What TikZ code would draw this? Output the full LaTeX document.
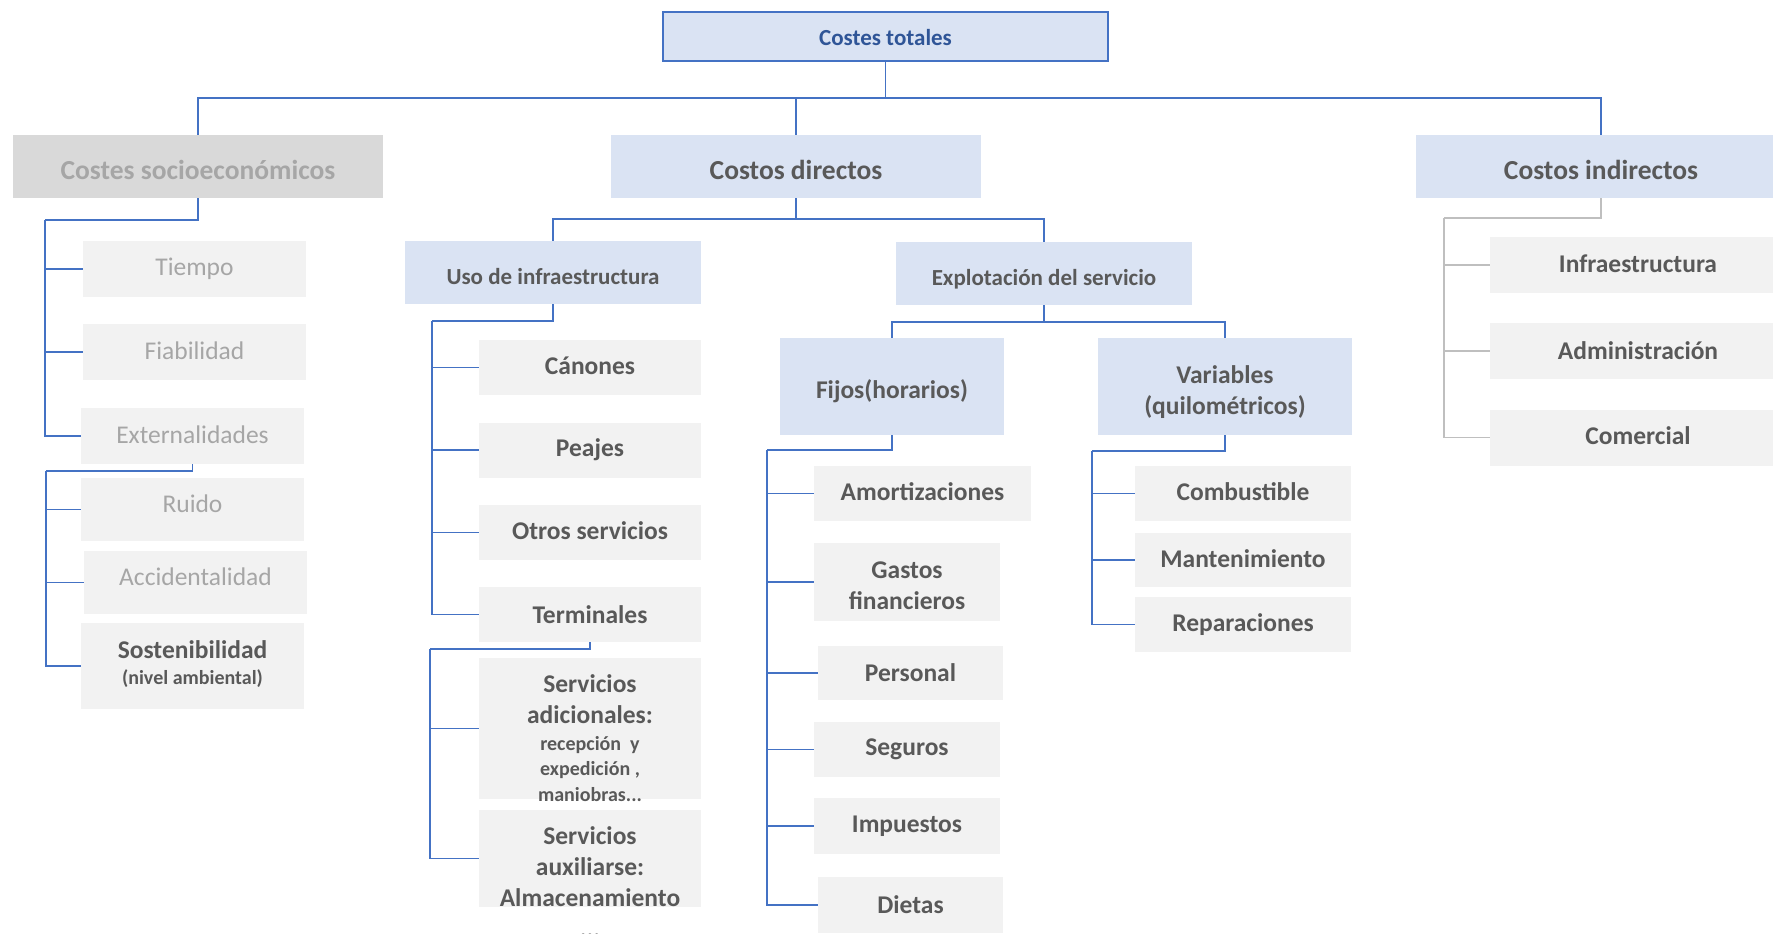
\documentclass[tikz,border=0pt]{standalone}
\usepackage{fontspec}
\setmainfont{Carlito}
\usepackage{xcolor}
\usepackage{tikz}

\definecolor{lineblue}{HTML}{4472C4}
\definecolor{linegray}{HTML}{BFBFBF}
\definecolor{headblue}{HTML}{DAE3F3}
\definecolor{titleblue}{HTML}{2F5597}
\definecolor{boxgray}{HTML}{F2F2F2}
\definecolor{socgray}{HTML}{D9D9D9}
\definecolor{txtgray}{HTML}{595959}
\definecolor{softgray}{HTML}{A6A6A6}

% lower a text line inside its box, keeping the box size
\newcommand{\dropby}[2]{\raisebox{-#1pt}[\height][\depth]{#2}}

\begin{document}
\begin{tikzpicture}
    [x=1pt,y=-1pt,
    link/.style={lineblue,line width=1.3pt},
    glink/.style={linegray,line width=1.3pt},
    totbox/.style={draw=lineblue,line width=1.5pt,fill=headblue,text=titleblue,inner sep=0,
        minimum width=445,minimum height=49,font=\bfseries\fontsize{23}{28}\selectfont},
    headbox/.style={fill=headblue,text=txtgray,inner sep=0,minimum width=370,minimum height=63,
        font=\bfseries\fontsize{27.5}{33}\selectfont},
    sochead/.style={headbox,fill=socgray,text=softgray},
    midbox/.style={fill=headblue,text=txtgray,inner sep=0,align=center,
        font=\bfseries\fontsize{23}{28}\selectfont},
    leaf/.style={fill=boxgray,text=txtgray,inner sep=0,align=center,
        font=\bfseries\fontsize{25.5}{31}\selectfont},
    softleaf/.style={leaf,text=softgray,font=\fontsize{25.5}{31}\selectfont},
    leaftext/.style={text=txtgray,inner sep=0,align=center,font=\bfseries\fontsize{25.5}{31}\selectfont},
    smalltext/.style={leaftext,font=\bfseries\fontsize{20}{25.5}\selectfont}]

\useasboundingbox (0,0) rectangle (1773,934);

%top level
\node[totbox] (tot) at (885.5,36.5) {\dropby{1}{Costes totales}};
\node[sochead] (socio) at (198,166.5) {\dropby{3.5}{Costes socioeconómicos}};
\node[headbox] (dir) at (796,166.5) {\dropby{3.5}{Costos directos}};
\node[headbox] (ind) at (1601,166.5) {\dropby{3.5}{Costos indirectos}};

\coordinate (tBus) at (885.5,98);
\draw[link] (tot.south) -- (tBus);
\foreach \n in {socio,dir,ind}
    \draw[link] (tBus) -| (\n.north);

%socioeconomic costs
\node[softleaf,minimum width=223,minimum height=56] (tiem) at (194.5,269) {Tiempo};
\node[softleaf,minimum width=223,minimum height=56] (fiab) at (194.5,352) {\dropby{-1.5}{Fiabilidad}};
\node[softleaf,minimum width=223,minimum height=56] (ext) at (192.5,436) {\dropby{-1.5}{Externalidades}};
\node[softleaf,minimum width=223,minimum height=63] (ruid) at (192.5,509.5) {\dropby{-5.5}{Ruido}};
\node[softleaf,minimum width=223,minimum height=63] (acc) at (195.5,582.5) {\dropby{-5.5}{Accidentalidad}};
\node[leaf,minimum width=223,minimum height=86] (sost) at (192.5,666) {};
\node[leaftext] (sostA) at (192.5,650) {Sostenibilidad};
\node[smalltext] (sostB) at (192.5,679) {(nivel ambiental)};

\coordinate (sT1) at (45,220);
\draw[link] (socio.south) |- (sT1);
\foreach \n in {tiem,fiab,ext}
    \draw[link] (sT1) |- (\n.west);
\coordinate (sT2) at (46,471);
\draw[link] (ext.south) |- (sT2);
\foreach \n in {ruid,acc,sost}
    \draw[link] (sT2) |- (\n.west);

%direct costs
\node[midbox,minimum width=296,minimum height=63] (uso) at (553,272.5) {\dropby{4.5}{Uso de infraestructura}};
\node[midbox,minimum width=296,minimum height=63] (exp) at (1044,273.5) {\dropby{5.5}{Explotación del servicio}};

\coordinate (dBus) at (796,219);
\draw[link] (dir.south) -- (dBus);
\foreach \n in {uso,exp}
    \draw[link] (dBus) -| (\n.north);

%use of infrastructure
\node[leaf,minimum width=222,minimum height=55] (can) at (590,367.5) {\dropby{-1.5}{Cánones}};
\node[leaf,minimum width=222,minimum height=55] (peaj) at (590,450) {Peajes};
\node[leaf,minimum width=222,minimum height=55] (otro) at (590,532.5) {\dropby{-1.5}{Otros servicios}};
\node[leaf,minimum width=222,minimum height=55] (term) at (590,614.5) {Terminales};
\node[leaf,minimum width=222,minimum height=141] (sad) at (590,728.5) {};
\node[leaftext] (sadA) at (590,699.5) {Servicios\\adicionales:};
\node[smalltext] (sadB) at (590,769) {recepción\ \ y\\expedición ,\\maniobras...};
\node[leaf,minimum width=222,minimum height=97] (sax) at (590,858.5) {};
\node[leaftext] (saxA) at (590,882.5) {Servicios\\auxiliarse:\\Almacenamiento\\...};

\coordinate (uT1) at (432,321);
\draw[link] (uso.south) |- (uT1);
\foreach \n in {can,peaj,otro,term}
    \draw[link] (uT1) |- (\n.west);
\coordinate (uT2) at (430,649);
\draw[link] (term.south) |- (uT2);
\foreach \n in {sad,sax}
    \draw[link] (uT2) |- (\n.west);

%service operation
\node[midbox,minimum width=224,minimum height=97,font=\bfseries\fontsize{25.5}{31}\selectfont] (fijo) at (892,386.5) {\dropby{4.5}{Fijos(horarios)}};
\node[midbox,minimum width=254,minimum height=97,font=\bfseries\fontsize{25.5}{31}\selectfont] (var) at (1225,386.5) {\dropby{5.5}{Variables}\\\dropby{6}{(quilométricos)}};

\coordinate (eBus) at (1044,322);
\draw[link] (exp.south) -- (eBus);
\foreach \n in {fijo,var}
    \draw[link] (eBus) -| (\n.north);

%fixed
\node[leaf,minimum width=217,minimum height=55] (amor) at (922.5,493.5) {\dropby{-1.5}{Amortizaciones}};
\node[leaf,minimum width=186,minimum height=78] (gast) at (907,582) {\dropby{3.5}{Gastos}\\\dropby{3.5}{financieros}};
\node[leaf,minimum width=185,minimum height=54] (pers) at (910.5,673) {Personal};
\node[leaf,minimum width=186,minimum height=55] (seg) at (907,749.5) {Seguros};
\node[leaf,minimum width=186,minimum height=56] (imp) at (907,826) {Impuestos};
\node[leaf,minimum width=185,minimum height=56] (diet) at (910.5,905) {Dietas};

\coordinate (fT) at (767,450);
\draw[link] (fijo.south) |- (fT);
\foreach \n in {amor,gast,pers,seg,imp,diet}
    \draw[link] (fT) |- (\n.west);

%variable
\node[leaf,minimum width=216,minimum height=55] (comb) at (1243,493.5) {\dropby{-1.5}{Combustible}};
\node[leaf,minimum width=216,minimum height=54] (mant) at (1243,560) {\dropby{-1.5}{Mantenimiento}};
\node[leaf,minimum width=216,minimum height=55] (rep) at (1243,624.5) {Reparaciones};

\coordinate (vT) at (1092,451);
\draw[link] (var.south) |- (vT);
\foreach \n in {comb,mant,rep}
    \draw[link] (vT) |- (\n.west);

%indirect costs
\node[leaf,minimum width=296,minimum height=56] (infr) at (1638,265) {\dropby{-1.5}{Infraestructura}};
\node[leaf,minimum width=296,minimum height=56] (adm) at (1638,351) {Administración};
\node[leaf,minimum width=296,minimum height=56] (com) at (1638,437.5) {\dropby{-1.5}{Comercial}};

\coordinate (iT) at (1444,218);
\draw[glink] (ind.south) |- (iT);
\foreach \n in {infr,adm,com}
    \draw[glink] (iT) |- (\n.west);

\end{tikzpicture}
\end{document}
